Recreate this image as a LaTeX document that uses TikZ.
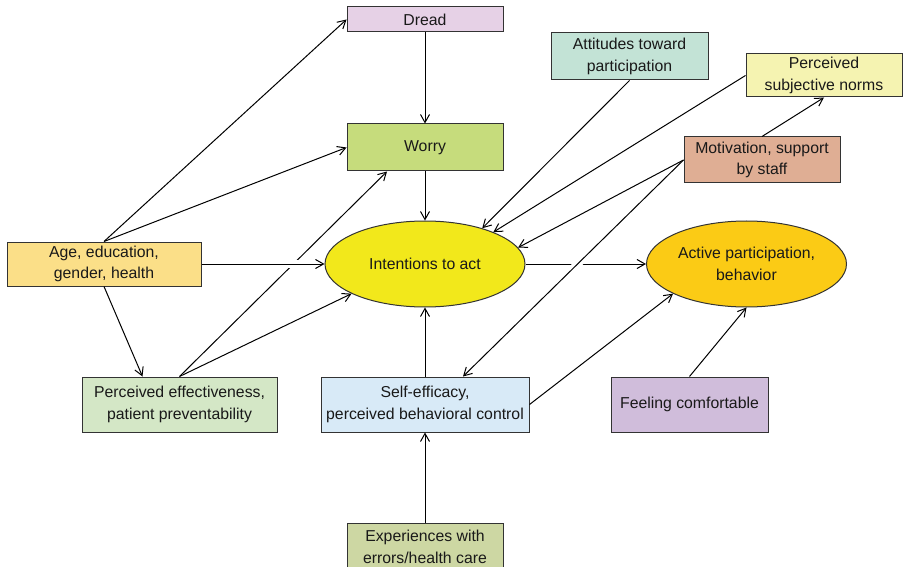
\documentclass[tikz,border=0pt]{standalone}
\usepackage{fontspec}
\setmainfont{Liberation Sans}
\usetikzlibrary{arrows.meta,shapes.geometric}

\definecolor{dreadfill}{HTML}{E6D1E6}
\definecolor{worryfill}{HTML}{C6DC7C}
\definecolor{attfill}{HTML}{C3E3D6}
\definecolor{normsfill}{HTML}{F5F3B1}
\definecolor{motfill}{HTML}{DFAE94}
\definecolor{agefill}{HTML}{FBDF88}
\definecolor{intfill}{HTML}{F2E81B}
\definecolor{actfill}{HTML}{FBCB15}
\definecolor{pefill}{HTML}{D4E7C6}
\definecolor{sefill}{HTML}{D8EAF7}
\definecolor{fcfill}{HTML}{D0BDDB}
\definecolor{expfill}{HTML}{CDD7A3}

\begin{document}
\begin{tikzpicture}[x=1pt,y=-1pt,>={Straight Barb[length=8pt,width=9pt]},line width=1pt,
    every node/.style={font=\fontsize{15.8}{21.5}\selectfont,text=black!90},
    box/.style={draw=black!80,rectangle,align=center,inner sep=0pt},
    oval/.style={draw=black!80,ellipse,align=center,inner sep=0pt,minimum width=200pt,minimum height=86pt},
    link/.style={->,black},
    bridge/.style={preaction={draw=white,-,line width=8pt,shorten <=25pt,shorten >=15pt}}]

    \useasboundingbox (0,0) rectangle (903,567);

    \node[box,fill=dreadfill,minimum width=156pt,minimum height=25pt] (dread) at (425,19.5) {Dread};
    \node[box,fill=worryfill,minimum width=156pt,minimum height=47pt] (worry) at (425,147.5) {Worry};
    \node[box,fill=attfill,minimum width=157pt,minimum height=47pt] (att) at (629.5,56.5) {Attitudes toward\\participation};
    \node[box,fill=normsfill,minimum width=156pt,minimum height=43pt] (norms) at (824,75.5) {Perceived\\subjective norms};
    \node[box,fill=motfill,minimum width=156pt,minimum height=46pt] (mot) at (762,160) {Motivation, support\\by staff};
    \node[box,fill=agefill,minimum width=194pt,minimum height=44pt] (age) at (104,264) {Age, education,\\gender, health};
    \node[oval,fill=intfill] (int) at (425,264) {Intentions to act};
    \node[oval,fill=actfill] (act) at (746.5,264) {Active participation,\\behavior};
    \node[box,fill=pefill,minimum width=195pt,minimum height=55pt] (pe) at (179.5,404.5) {Perceived effectiveness,\\patient preventability};
    \node[box,fill=sefill,minimum width=208pt,minimum height=55pt] (se) at (425,404.5) {Self-efficacy,\\perceived behavioral control};
    \node[box,fill=fcfill,minimum width=157pt,minimum height=55pt] (fc) at (689.5,404.5) {Feeling comfortable};
    \node[box,fill=expfill,minimum width=156pt,minimum height=48pt] (exp) at (425,547) {Experiences with\\errors/health care};

    % left side
    \draw[link] (age.north) -- (dread.west);
    \draw[link] (age.north) -- (worry.west);
    \draw[link] (age.south) -- ([xshift=-37pt]pe.north);
    \draw[link] (pe.north) -- ([xshift=-38pt]worry.south);
    \draw[link,bridge] (age.east) -- (int.west);
    \draw[link] (pe.north) -- (int.202);

    % middle column
    \draw[link] (dread) -- (worry);
    \draw[link] (worry) -- (int);
    \draw[link] (se) -- (int);
    \draw[link] (exp) -- (se);

    % right side
    \draw[link] (att.south) -- (int.32);
    \draw[link] (norms.west) -- (int.25);
    \draw[link] (mot.north) -- (norms.south);
    \draw[link] (int) -- (act);
    \draw[link,bridge] (mot.west) -- ([xshift=38pt]se.north);
    \draw[link] (mot.west) -- (int.10);
    \draw[link] (se.east) -- (act.202);
    \draw[link] (fc.north) -- (act.south);
\end{tikzpicture}
\end{document}
